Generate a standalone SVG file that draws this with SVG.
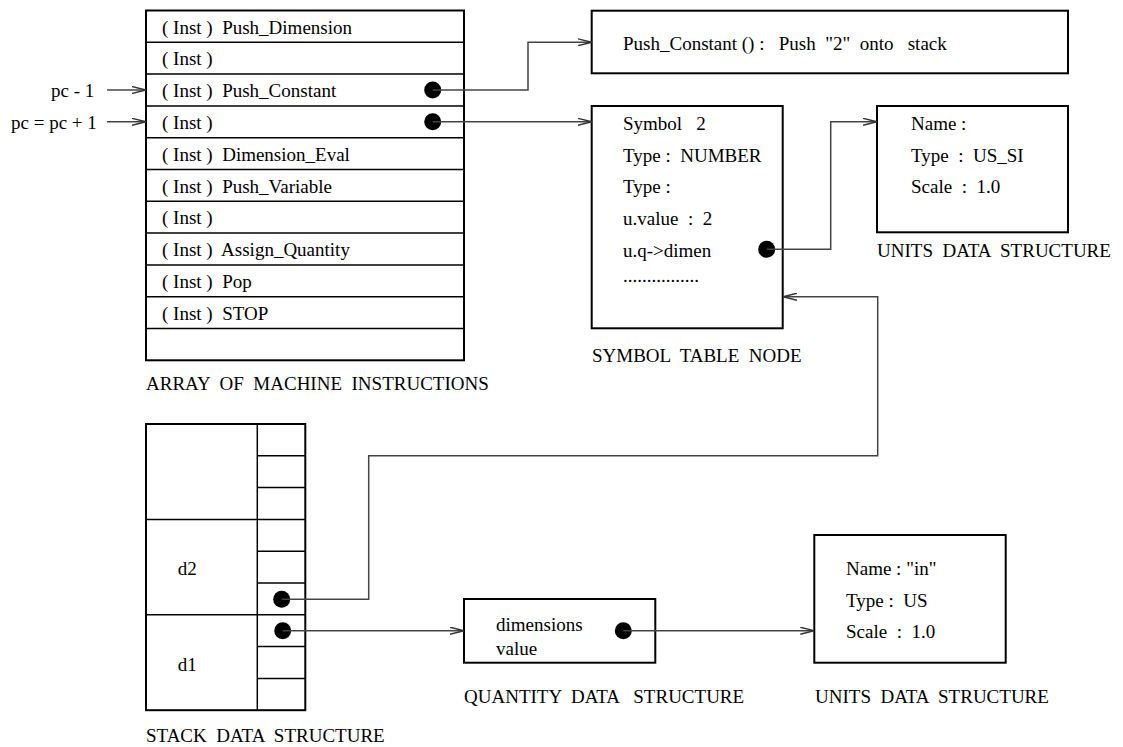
<svg xmlns="http://www.w3.org/2000/svg" width="1123" height="747" viewBox="0 0 1123 747">
<defs>
<style>
text{font-family:"Liberation Serif","Times New Roman",serif;font-size:19px;fill:#000;white-space:pre}
.box{fill:none;stroke:#000;stroke-width:2}
.div{stroke:#000;stroke-width:1.5}
.con{fill:none;stroke:#444;stroke-width:1.5}
.dot{fill:#000}
</style>
<marker id="arr" viewBox="0 0 14 8" refX="14" refY="4" markerWidth="14" markerHeight="8" orient="auto" markerUnits="userSpaceOnUse">
<path d="M0,0.5 L14,4 L0,7.5" fill="none" stroke="#333" stroke-width="1.4"/>
</marker>
</defs>
<rect width="1123" height="747" fill="#fff"/>

<g id="array">
<rect class="box" x="146" y="10.5" width="318" height="349.8"/>
<line class="div" x1="146" y1="42.3" x2="464" y2="42.3"/>
<line class="div" x1="146" y1="74.1" x2="464" y2="74.1"/>
<line class="div" x1="146" y1="105.9" x2="464" y2="105.9"/>
<line class="div" x1="146" y1="137.7" x2="464" y2="137.7"/>
<line class="div" x1="146" y1="169.5" x2="464" y2="169.5"/>
<line class="div" x1="146" y1="201.3" x2="464" y2="201.3"/>
<line class="div" x1="146" y1="233.1" x2="464" y2="233.1"/>
<line class="div" x1="146" y1="264.9" x2="464" y2="264.9"/>
<line class="div" x1="146" y1="296.7" x2="464" y2="296.7"/>
<line class="div" x1="146" y1="328.5" x2="464" y2="328.5"/>
<text x="162" y="33.5">( Inst )  Push_Dimension</text>
<text x="162" y="65.3">( Inst )</text>
<text x="162" y="97.1">( Inst )  Push_Constant</text>
<text x="162" y="128.9">( Inst )</text>
<text x="162" y="160.7">( Inst )  Dimension_Eval</text>
<text x="162" y="192.5">( Inst )  Push_Variable</text>
<text x="162" y="224.3">( Inst )</text>
<text x="162" y="256.1">( Inst )  Assign_Quantity</text>
<text x="162" y="287.9">( Inst )  Pop</text>
<text x="162" y="319.7">( Inst )  STOP</text>
<circle class="dot" cx="432.7" cy="90" r="8.5"/>
<circle class="dot" cx="432.7" cy="121.8" r="8.5"/>
<text x="146" y="390">ARRAY  OF  MACHINE  INSTRUCTIONS</text>
</g>

<g id="pc-labels">
<text x="51" y="97">pc - 1</text>
<text x="11" y="129">pc = pc + 1</text>
</g>

<g id="push-constant">
<rect class="box" x="591.7" y="10.7" width="476.3" height="62.6"/>
<text x="623" y="50">Push_Constant () :   Push  "2"  onto   stack</text>
</g>

<g id="symbol-node">
<rect class="box" x="591.7" y="106" width="191" height="222.3"/>
<text x="623" y="130">Symbol   2</text>
<text x="623" y="161.7">Type :  NUMBER</text>
<text x="623" y="193">Type :</text>
<text x="623" y="225">u.value  :  2</text>
<text x="623" y="256.7">u.q-&gt;dimen</text>
<text x="623" y="281.7">................</text>
<circle class="dot" cx="766.7" cy="249.3" r="8.5"/>
<text x="592" y="361.7">SYMBOL  TABLE  NODE</text>
</g>

<g id="units-1">
<rect class="box" x="877" y="106" width="191" height="126.3"/>
<text x="911" y="130">Name :</text>
<text x="911" y="162">Type  :  US_SI</text>
<text x="911" y="193">Scale  :  1.0</text>
<text x="877" y="257.3">UNITS  DATA  STRUCTURE</text>
</g>

<g id="stack">
<rect class="box" x="146" y="424" width="159.3" height="286.2"/>
<line class="div" x1="257.3" y1="424" x2="257.3" y2="710.2"/>
<line class="div" x1="257.3" y1="455.8" x2="305.3" y2="455.8"/>
<line class="div" x1="257.3" y1="487.6" x2="305.3" y2="487.6"/>
<line class="div" x1="146" y1="519.4" x2="305.3" y2="519.4"/>
<line class="div" x1="257.3" y1="551.2" x2="305.3" y2="551.2"/>
<line class="div" x1="257.3" y1="583" x2="305.3" y2="583"/>
<line class="div" x1="146" y1="614.8" x2="305.3" y2="614.8"/>
<line class="div" x1="257.3" y1="646.6" x2="305.3" y2="646.6"/>
<line class="div" x1="257.3" y1="678.4" x2="305.3" y2="678.4"/>
<text x="177.7" y="575">d2</text>
<text x="177.7" y="671">d1</text>
<circle class="dot" cx="281.7" cy="599.3" r="8.5"/>
<circle class="dot" cx="282.7" cy="630.7" r="8.5"/>
<text x="146" y="741.7">STACK  DATA  STRUCTURE</text>
</g>

<g id="quantity">
<rect class="box" x="464" y="599" width="191.3" height="63.7"/>
<text x="496" y="631">dimensions</text>
<text x="496" y="655">value</text>
<circle class="dot" cx="623.3" cy="630.7" r="8.5"/>
<text x="464" y="703.3">QUANTITY  DATA   STRUCTURE</text>
</g>

<g id="units-2">
<rect class="box" x="814.3" y="535" width="191.4" height="127.7"/>
<text x="846" y="575">Name : "in"</text>
<text x="846" y="606.7">Type :  US</text>
<text x="846" y="638">Scale  :  1.0</text>
<text x="815" y="702.7">UNITS  DATA  STRUCTURE</text>
</g>

<g id="connectors">
<line class="con" x1="107" y1="90" x2="146" y2="90" marker-end="url(#arr)"/>
<line class="con" x1="107" y1="121.8" x2="146" y2="121.8" marker-end="url(#arr)"/>
<polyline class="con" points="432.7,90 528,90 528,42.3 591.7,42.3" marker-end="url(#arr)"/>
<line class="con" x1="432.7" y1="121.8" x2="591.7" y2="121.8" marker-end="url(#arr)"/>
<polyline class="con" points="766.7,249.3 830.7,249.3 830.7,121.8 877,121.8" marker-end="url(#arr)"/>
<polyline class="con" points="281.7,599.3 368.7,599.3 368.7,455.7 877.7,455.7 877.7,296.7 783,296.7" marker-end="url(#arr)"/>
<line class="con" x1="282.7" y1="630.7" x2="464" y2="630.7" marker-end="url(#arr)"/>
<line class="con" x1="623.3" y1="630.7" x2="814.3" y2="630.7" marker-end="url(#arr)"/>
</g>
</svg>
